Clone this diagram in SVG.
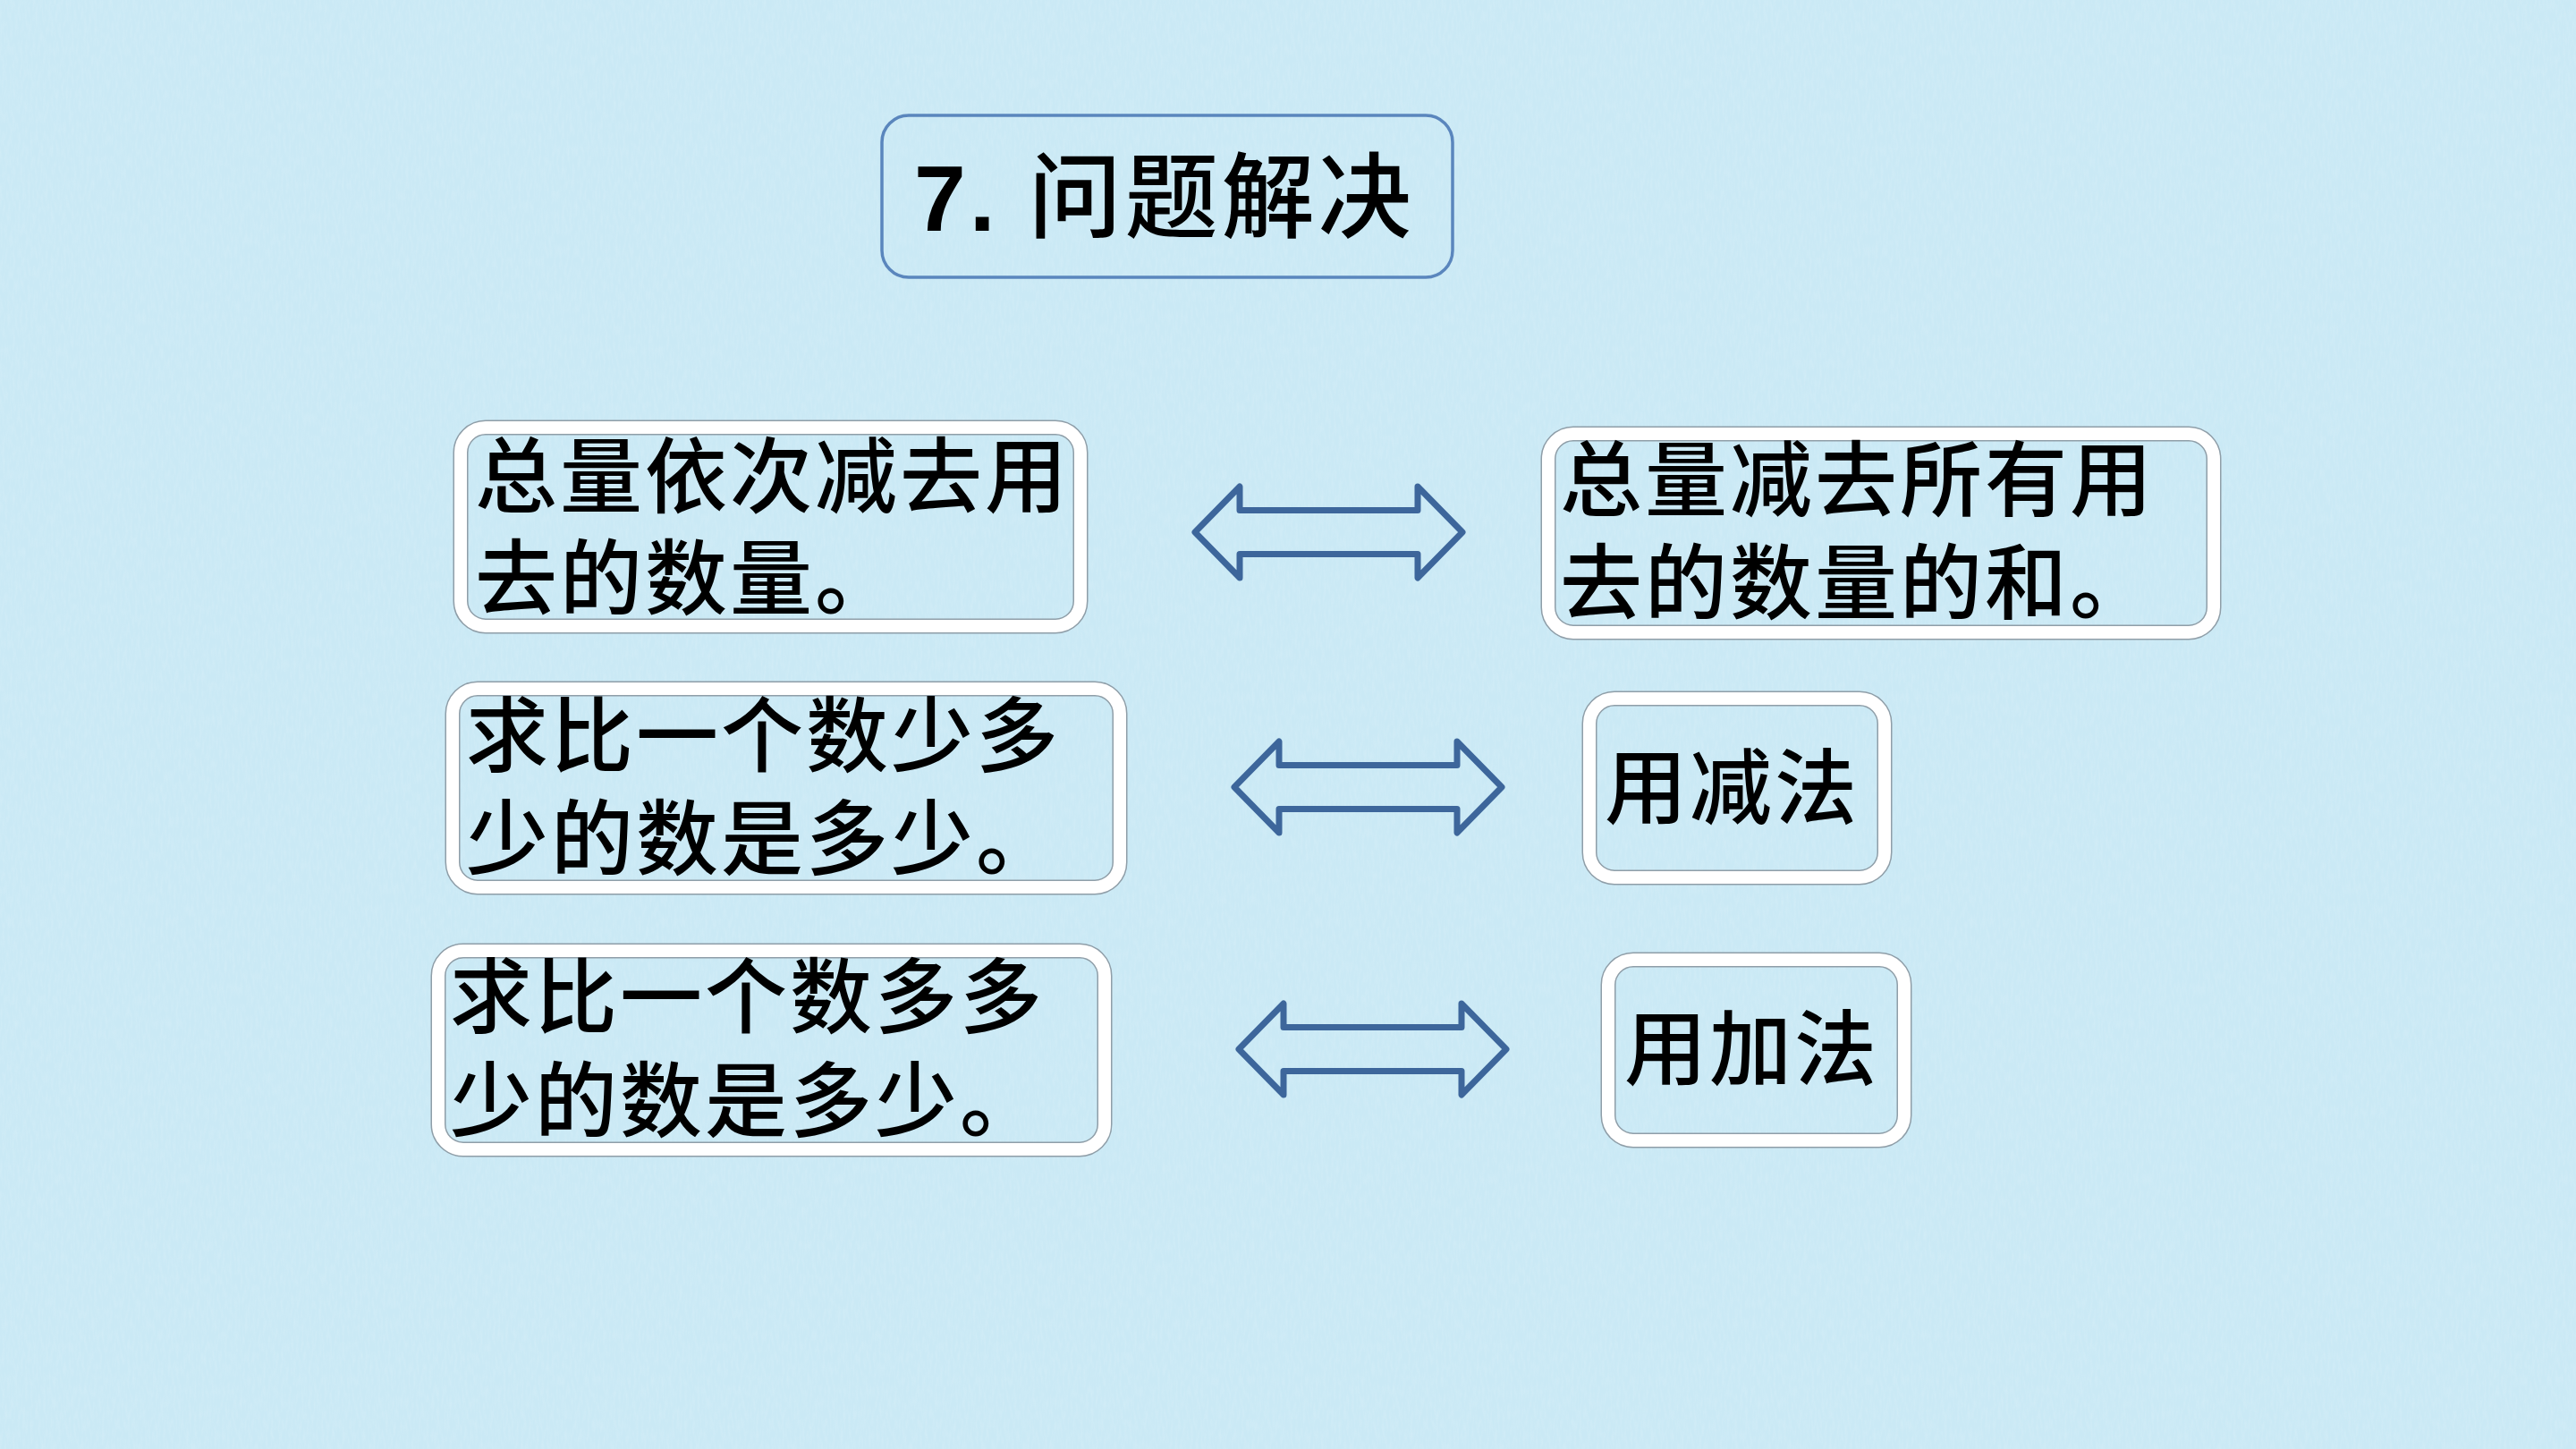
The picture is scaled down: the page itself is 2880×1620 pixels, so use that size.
<svg xmlns="http://www.w3.org/2000/svg" width="2880" height="1620" viewBox="0 0 2880 1620">
  <style>
    .bg { fill: #cae9f5; }
    .bo { fill: none; stroke: #8f9ea8; stroke-width: 17; }
    .bi { fill: none; stroke: #ffffff; stroke-width: 14; }
    .tb { fill: none; stroke: #5a86bd; stroke-width: 3.5; }
    .t { font-family: "Liberation Sans", "Noto Sans CJK SC", "Noto Sans CJK JP", sans-serif; font-size: 92px; font-weight: 500; fill: #000; letter-spacing: 3px; }
    .title { font-family: "Liberation Sans", "Noto Sans CJK SC", "Noto Sans CJK JP", sans-serif; font-size: 104px; font-weight: 500; fill: #000; letter-spacing: 4px; }
    .num { font-weight: bold; }
    .arr { fill: none; stroke: #3d669b; stroke-width: 7; stroke-linejoin: round; }
  </style>
  <defs>
    <filter id="tex" x="0" y="0" width="100%" height="100%">
      <feTurbulence type="fractalNoise" baseFrequency="0.35 0.08" numOctaves="2" seed="3" result="n"/>
      <feColorMatrix type="matrix" values="0 0 0 0 1  0 0 0 0 1  0 0 0 0 1  0 0 0 0.35 -0.12" />
    </filter>
  </defs>
  <rect class="bg" x="0" y="0" width="2880" height="1620"/>
  <rect x="0" y="0" width="2880" height="1620" filter="url(#tex)" opacity="0.6"/>

  <g id="title">
    <rect class="tb" x="986" y="129" width="638" height="181" rx="30"/>
    <text class="title" x="1022" y="258"><tspan class="num">7.</tspan> 问题解决</text>
  </g>

  <g id="node-l1">
    <rect class="bo" x="515" y="478" width="693" height="222" rx="28"/>
    <rect class="bi" x="515" y="478" width="693" height="222" rx="28"/>
    <text class="t" x="531" y="566"><tspan x="531" y="566">总量依次减去用</tspan><tspan x="531" y="680">去的数量。</tspan></text>
  </g>

  <g id="node-r1">
    <rect class="bo" x="1731" y="485" width="744" height="222" rx="28"/>
    <rect class="bi" x="1731" y="485" width="744" height="222" rx="28"/>
    <text class="t" x="1744" y="570"><tspan x="1744" y="570">总量减去所有用</tspan><tspan x="1744" y="685">去的数量的和。</tspan></text>
  </g>

  <g id="node-l2">
    <rect class="bo" x="506" y="770" width="746" height="222" rx="28"/>
    <rect class="bi" x="506" y="770" width="746" height="222" rx="28"/>
    <text class="t" x="521" y="856"><tspan x="521" y="856">求比一个数少多</tspan><tspan x="521" y="971">少的数是多少。</tspan></text>
  </g>

  <g id="node-r2">
    <rect class="bo" x="1777" y="781" width="330" height="200" rx="28"/>
    <rect class="bi" x="1777" y="781" width="330" height="200" rx="28"/>
    <text class="t" x="1794" y="914">用减法</text>
  </g>

  <g id="node-l3">
    <rect class="bo" x="490" y="1063" width="745" height="222" rx="28"/>
    <rect class="bi" x="490" y="1063" width="745" height="222" rx="28"/>
    <text class="t" x="503" y="1148"><tspan x="503" y="1148">求比一个数多多</tspan><tspan x="503" y="1264">少的数是多少。</tspan></text>
  </g>

  <g id="node-r3">
    <rect class="bo" x="1798" y="1073" width="331" height="202" rx="28"/>
    <rect class="bi" x="1798" y="1073" width="331" height="202" rx="28"/>
    <text class="t" x="1816" y="1206">用加法</text>
  </g>

  <g id="connectors">
    <path class="arr" d="M1336 595 L1386 544 L1386 570.5 L1585 570.5 L1585 544 L1635 595 L1585 646 L1585 619.5 L1386 619.5 L1386 646 Z"/>
    <path class="arr" d="M1380 880 L1430 829 L1430 855.5 L1629 855.5 L1629 829 L1679 880 L1629 931 L1629 904.5 L1430 904.5 L1430 931 Z"/>
    <path class="arr" d="M1385 1173 L1435 1122 L1435 1148.5 L1634 1148.5 L1634 1122 L1684 1173 L1634 1224 L1634 1197.5 L1435 1197.5 L1435 1224 Z"/>
  </g>
</svg>
